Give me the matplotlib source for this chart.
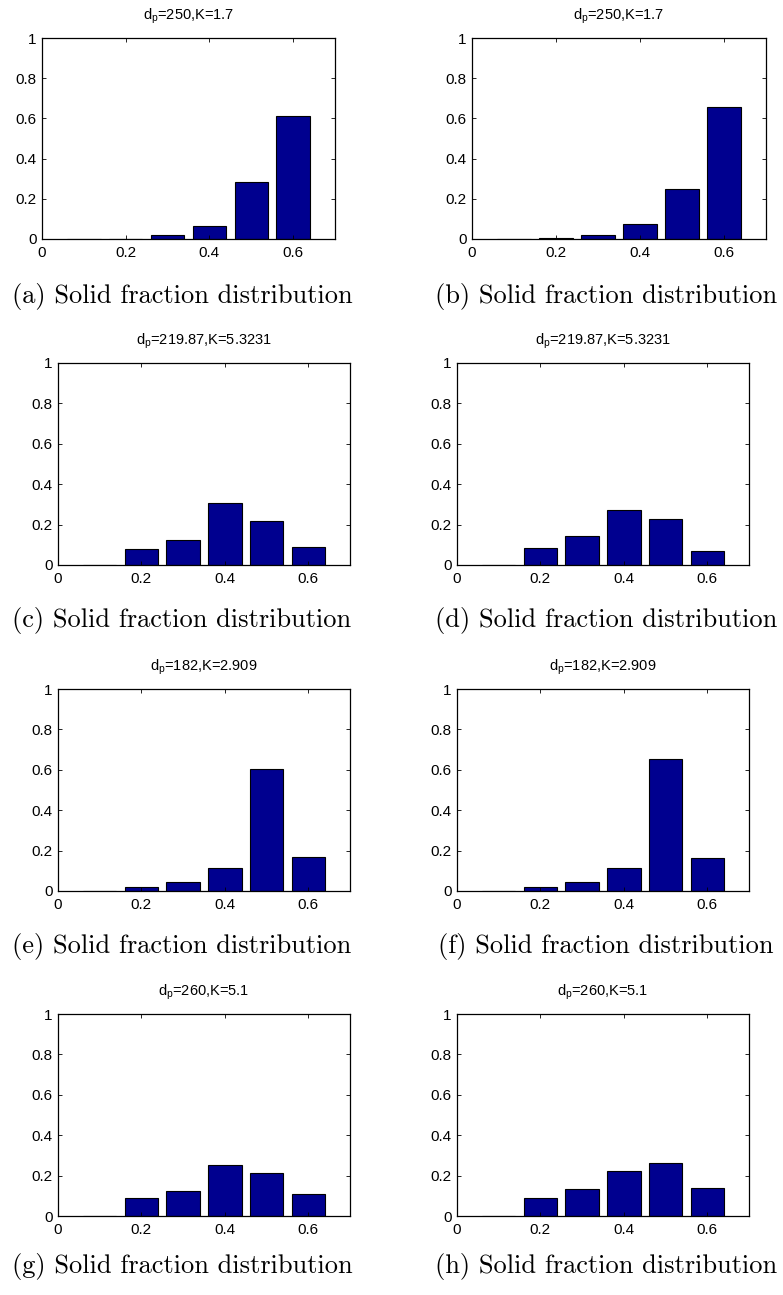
import matplotlib
matplotlib.use("Agg")
import matplotlib.pyplot as plt

plt.rcParams['font.family'] = ['Liberation Sans', 'DejaVu Sans']
plt.rcParams['mathtext.default'] = 'regular'

# solid fraction bins and the fraction of cells in each
bins = [0.1, 0.2, 0.3, 0.4, 0.5, 0.6]
frac_a = [0.0, 0.002, 0.020, 0.065, 0.285, 0.611]
frac_b = [0.0, 0.005, 0.020, 0.073, 0.247, 0.657]
frac_c = [0.0, 0.077, 0.124, 0.308, 0.217, 0.091]
frac_d = [0.0, 0.082, 0.145, 0.270, 0.226, 0.071]
frac_e = [0.0, 0.022, 0.046, 0.116, 0.606, 0.169]
frac_f = [0.0, 0.022, 0.045, 0.116, 0.654, 0.161]
frac_g = [0.0, 0.089, 0.126, 0.252, 0.215, 0.107]
frac_h = [0.0, 0.087, 0.133, 0.223, 0.264, 0.141]

titles = ['d$_p$=250,K=1.7', 'd$_p$=250,K=1.7',
          'd$_p$=219.87,K=5.3231', 'd$_p$=219.87,K=5.3231',
          'd$_p$=182,K=2.909', 'd$_p$=182,K=2.909',
          'd$_p$=260,K=5.1', 'd$_p$=260,K=5.1']
letters = ['a', 'b', 'c', 'd', 'e', 'f', 'g', 'h']
series = [frac_a, frac_b, frac_c, frac_d, frac_e, frac_f, frac_g, frac_h]

W, H = 783, 1295
fig = plt.figure(figsize=(W / 100, H / 100), dpi=100)

# pixel boxes (left, right, top, bottom)
boxes = [(42, 335, 38, 239), (472, 766, 38, 239),
         (58, 350, 363, 565), (457, 749, 363, 565),
         (58, 350, 689, 891), (457, 749, 689, 891),
         (58, 350, 1014, 1216), (457, 749, 1014, 1216)]
cap_y = [297, 297, 621, 621, 946, 946, 1266, 1266]
cap_x = [182, 606, 182, 606, 182, 606, 182, 606]

for i, vals in enumerate(series):
    l, r, t, b = boxes[i]
    ax = fig.add_axes([l / W, 1 - b / H, (r - l) / W, (b - t) / H])
    ax.bar(bins, vals, width=0.08, color='#00008F', edgecolor='black', linewidth=0.8)
    ax.set_xlim(0, 0.7)
    ax.set_ylim(0, 1)
    ax.set_xticks([0, 0.2, 0.4, 0.6])
    ax.set_xticklabels(['0', '0.2', '0.4', '0.6'])
    ax.set_yticks([0, 0.2, 0.4, 0.6, 0.8, 1])
    ax.set_yticklabels(['0', '0.2', '0.4', '0.6', '0.8', '1'])
    ax.tick_params(direction='in', top=True, right=True, length=3, width=0.6,
                   labelsize=11)
    ax.tick_params(axis='x', pad=5)
    ax.tick_params(axis='y', pad=4)
    for s in ax.spines.values():
        s.set_linewidth(0.9)
    ax.set_title(titles[i], fontsize=10.5, pad=13)
    fig.text(cap_x[i] / W, 1 - cap_y[i] / H, '(%s) Solid fraction distribution' % letters[i],
             family='cmr10', fontsize=19, ha='center', va='center')

fig.savefig('out.png', dpi=100)
